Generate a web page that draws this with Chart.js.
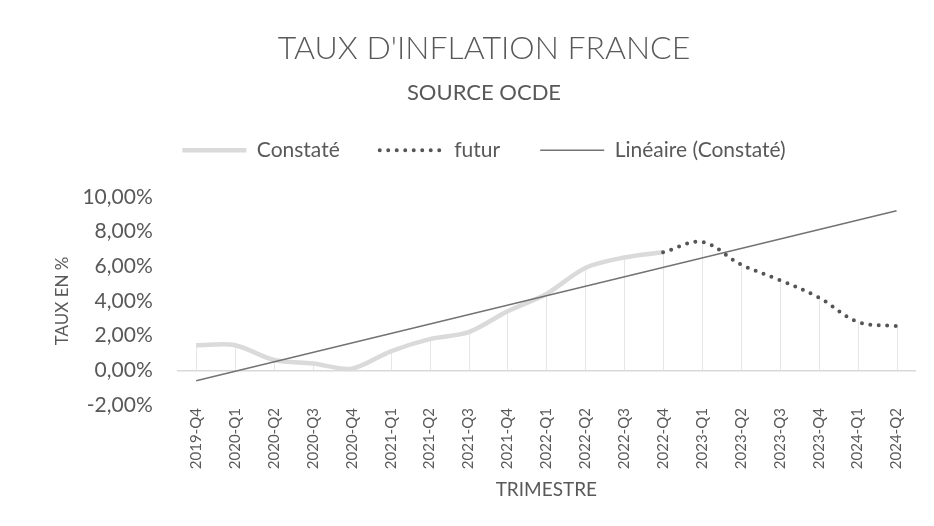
<!DOCTYPE html>
<html>
<head>
<meta charset="utf-8">
<script src="https://cdn.jsdelivr.net/npm/chart.js@4/dist/chart.umd.min.js"></script>
<style>
  html, body { margin: 0; padding: 0; background: #fff; }
  #wrap { width: 934px; height: 526px; }
</style>
</head>
<body>
<div id="wrap"><canvas id="chart-line"></canvas></div>
<script>
// trimestres
var labels = ['2019-Q4', '2020-Q1', '2020-Q2', '2020-Q3', '2020-Q4', '2021-Q1', '2021-Q2',
    '2021-Q3', '2021-Q4', '2022-Q1', '2022-Q2', '2022-Q3', '2022-Q4', '2023-Q1', '2023-Q2',
    '2023-Q3', '2023-Q4', '2024-Q1', '2024-Q2'];
// taux constaté (%)
var constate = [1.45, 1.45, 0.6, 0.4, 0.1, 1.1, 1.8, 2.2, 3.4, 4.4, 5.9, 6.5, 6.8,
    null, null, null, null, null, null];
// prévisions (%)
var futur = [null, null, null, null, null, null, null, null, null, null, null, null, 6.8,
    7.4, 6.1, 5.2, 4.2, 2.8, 2.55];
// tendance linéaire, lue aux extrémités (%)
var lineaire = [-0.6, null, null, null, null, null, null, null, null, null, null, null, null,
    null, null, null, null, null, 9.2];
var yTicks = [-2, 0, 2, 4, 6, 8, 10];

var textColor = '#595959';
var fontName = 'Lato, "Open Sans", sans-serif';

// lignes de projection (drop lines) vers l'axe
var dropLines = {
    id: 'dropLines',
    beforeDatasetsDraw: function (chart) {
        var ctx = chart.ctx;
        var x = chart.scales.x, y = chart.scales.y;
        ctx.save();
        ctx.strokeStyle = '#e6e6e6';
        ctx.lineWidth = 1;
        for (var i = 0; i < labels.length; i++) {
            var v = null;
            if (constate[i] != null) v = constate[i];
            if (futur[i] != null && (v == null || futur[i] > v)) v = futur[i];
            if (v == null) continue;
            var px = Math.round(x.getPixelForValue(i)) + 0.5;
            ctx.beginPath();
            ctx.moveTo(px, y.getPixelForValue(v));
            ctx.lineTo(px, y.getPixelForValue(0));
            ctx.stroke();
        }
        ctx.restore();
    }
};

// un peu d'espace sous la légende
var legendSpace = {
    id: 'legendSpace',
    beforeInit: function (chart) {
        var fit = chart.legend.fit;
        chart.legend.fit = function () {
            fit.bind(chart.legend)();
            this.height += 26;
        };
    }
};

var line_config = {
    type: 'line',
    data: {
        labels: labels,
        datasets: [{
            label: 'Constaté',
            data: constate,
            borderColor: '#dadada',
            backgroundColor: '#dadada',
            borderWidth: 4.5,
            pointRadius: 0,
            tension: 0.3,
            order: 3
        }, {
            label: 'futur',
            data: futur,
            borderColor: '#555555',
            backgroundColor: '#555555',
            borderWidth: 4,
            borderDash: [0, 8.5],
            borderCapStyle: 'round',
            pointRadius: 0,
            tension: 0.35,
            order: 1
        }, {
            label: 'Linéaire (Constaté)',
            data: lineaire,
            borderColor: '#737373',
            backgroundColor: '#737373',
            borderWidth: 1.5,
            pointRadius: 0,
            spanGaps: true,
            order: 2
        }]
    },
    options: {
        responsive: true,
        maintainAspectRatio: false,
        animation: false,
        layout: { padding: { left: 52, right: 18, top: 10, bottom: 25 } },
        plugins: {
            title: {
                display: true,
                text: "TAUX D'INFLATION FRANCE",
                color: textColor,
                font: { family: fontName, size: 32, weight: 300 },
                padding: { top: 19, bottom: 4 }
            },
            subtitle: {
                display: true,
                text: 'SOURCE OCDE',
                color: textColor,
                font: { family: fontName, size: 22, weight: 'normal' },
                padding: { top: 8, bottom: -6 }
            },
            legend: {
                position: 'top',
                labels: {
                    usePointStyle: true,
                    pointStyle: 'line',
                    pointStyleWidth: 64,
                    color: textColor,
                    font: { family: fontName, size: 21 },
                    padding: 40,
                    sort: function (a, b) { return a.datasetIndex - b.datasetIndex; },
                    generateLabels: function (chart) {
                        var items = Chart.defaults.plugins.legend.labels.generateLabels(chart);
                        items.forEach(function (it) {
                            var ds = chart.data.datasets[it.datasetIndex];
                            it.lineDash = ds.borderDash || [];
                            it.lineCap = ds.borderCapStyle || 'butt';
                            it.lineWidth = ds.borderWidth;
                            it.strokeStyle = ds.borderColor;
                        });
                        return items;
                    }
                }
            },
            tooltip: { enabled: false }
        },
        scales: {
            x: {
                offset: true,
                grid: { display: false, drawTicks: false },
                border: { display: false },
                ticks: {
                    color: textColor,
                    font: { family: fontName, size: 15 },
                    maxRotation: 90,
                    minRotation: 90,
                    autoSkip: false,
                    padding: 3
                },
                title: {
                    display: true,
                    text: 'TRIMESTRE',
                    color: textColor,
                    font: { family: fontName, size: 19 },
                    padding: { top: 6, bottom: 0 }
                }
            },
            y: {
                min: -2,
                max: 10,
                afterBuildTicks: function (axis) {
                    axis.ticks = yTicks.map(function (v) { return { value: v }; });
                },
                border: { display: false },
                grid: {
                    drawTicks: false,
                    color: function (c) { return c.tick && c.tick.value === 0 ? '#d9d9d9' : 'rgba(0,0,0,0)'; },
                    lineWidth: 1.5
                },
                ticks: {
                    color: textColor,
                    font: { family: fontName, size: 21 },
                    padding: 24,
                    callback: function (v) { return v.toFixed(2).replace('.', ',') + '%'; }
                },
                title: {
                    display: true,
                    text: 'TAUX EN %',
                    color: textColor,
                    font: { family: fontName, size: 17 },
                    padding: { top: 0, bottom: -14 }
                }
            }
        }
    },
    plugins: [dropLines, legendSpace]
};

var lineChart = document.getElementById('chart-line').getContext('2d');
window.myLine = new Chart(lineChart, line_config);
</script>
</body>
</html>
